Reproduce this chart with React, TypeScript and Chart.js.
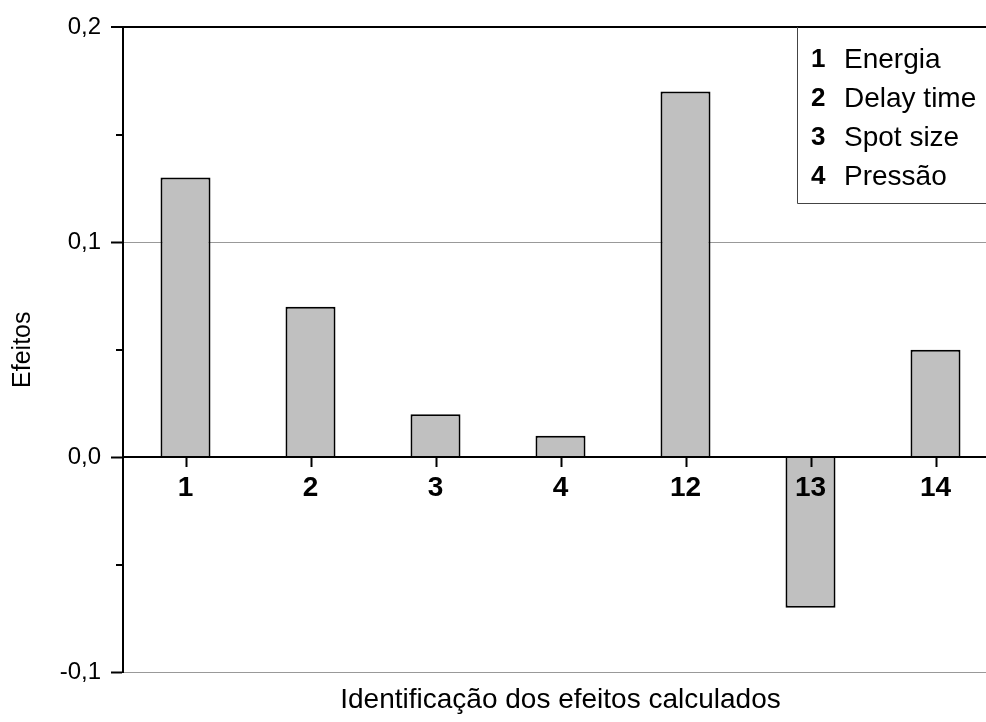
import React, { useEffect, useRef } from "react";
import { Chart, registerables } from "chart.js";

Chart.register(...registerables);

const categories = ["1", "2", "3", "4", "12", "13", "14"];
const effects = [0.13, 0.07, 0.02, 0.01, 0.17, -0.07, 0.05];
const legendNumbers = ["1", "2", "3", "4"];
const legendNames = ["Energia", "Delay time", "Spot size", "Pressão"];
const yMin = -0.1;
const yMax = 0.2;
const yStep = 0.05;
const xTitle = "Identificação dos efeitos calculados";
const yTitle = "Efeitos";

const FONT = "'Liberation Sans', Arial, sans-serif";

const isMajor = (v: number) => Math.abs(Math.round(v * 10) - v * 10) < 1e-6;

const extrasPlugin = {
  id: "extras",
  afterDraw(chart: any) {
    const { ctx, chartArea, scales } = chart;
    const y = scales.y;
    const x = scales.x;
    ctx.save();
    ctx.strokeStyle = "#000000";
    ctx.lineWidth = 2;
    ctx.setLineDash([]);
    // minor ticks on y axis
    y.ticks.forEach((t: any) => {
      if (!isMajor(t.value)) {
        const py = Math.round(y.getPixelForValue(t.value));
        ctx.beginPath();
        ctx.moveTo(chartArea.left - 7, py);
        ctx.lineTo(chartArea.left, py);
        ctx.stroke();
      }
    });
    // x tick marks below the zero line at category centres
    const y0 = Math.round(y.getPixelForValue(0));
    for (let i = 0; i < categories.length; i++) {
      const px = Math.round(x.getPixelForValue(i)) + 0.5;
      ctx.beginPath();
      ctx.moveTo(px, y0);
      ctx.lineTo(px, y0 + 10);
      ctx.stroke();
    }
    // legend box
    const bx = chartArea.right - 201;
    const by = chartArea.top;
    const bw = 260;
    const bh = 176;
    ctx.fillStyle = "#fff";
    ctx.fillRect(bx, by + 1, bw, bh);
    ctx.strokeStyle = "#444";
    ctx.lineWidth = 1;
    ctx.beginPath();
    ctx.moveTo(bx + 0.5, by);
    ctx.lineTo(bx + 0.5, by + bh + 0.5);
    ctx.lineTo(bx + bw, by + bh + 0.5);
    ctx.stroke();
    ctx.fillStyle = "#000";
    ctx.textBaseline = "middle";
    ctx.textAlign = "left";
    legendNumbers.forEach((n, i) => {
      const ty = by + 33 + i * 39;
      ctx.font = `bold 26px ${FONT}`;
      ctx.fillText(n, bx + 14, ty);
      ctx.font = `28px ${FONT}`;
      ctx.fillText(legendNames[i], bx + 47, ty);
    });
    ctx.restore();
  },
};

export default function App() {
  const ref = useRef<HTMLCanvasElement | null>(null);

  useEffect(() => {
    if (!ref.current) return;
    const chart = new Chart(ref.current, {
      type: "bar",
      data: {
        labels: categories,
        datasets: [
          {
            data: effects,
            backgroundColor: "#c0c0c0",
            borderColor: "#000",
            borderWidth: 2,
            categoryPercentage: 1,
            barPercentage: 0.4,
          },
        ],
      },
      options: {
        animation: false,
        responsive: false,
        devicePixelRatio: 1,
        layout: { padding: { top: 27, right: 2, left: 0, bottom: 0 } },
        plugins: {
          legend: { display: false },
          tooltip: { enabled: false },
          title: {
            display: true,
            position: "bottom",
            fullSize: false,
            text: xTitle,
            color: "#000",
            font: { family: FONT, size: 28, weight: "normal" },
            padding: { top: 11, bottom: 5 },
          },
        },
        scales: {
          x: {
            type: "category",
            position: { y: 0 } as any,
            offset: true,
            grid: {
              offset: false,
              display: true,
              drawOnChartArea: false,
              drawTicks: false,
              tickLength: 9,
              z: 1,
            },
            border: { display: true, color: "#000", width: 2, z: 1 },
            ticks: {
              color: "#000",
              padding: 14,
              z: 1,
              font: { family: FONT, size: 28, weight: "bold" },
              maxRotation: 0,
              autoSkip: false,
            },
          },
          y: {
            min: yMin,
            max: yMax,
            afterFit: (s: any) => {
              s.width = 123;
            },
            title: {
              display: true,
              text: yTitle,
              color: "#000",
              font: { family: FONT, size: 25 },
              padding: { top: 8, bottom: 0 },
            },
            ticks: {
              stepSize: yStep,
              color: "#000",
              padding: 10,
              font: { family: FONT, size: 24 },
              callback: (v: any) => {
                const n = Number(v);
                return isMajor(n) ? n.toFixed(1).replace(".", ",") : "";
              },
            },
            grid: {
              drawOnChartArea: true,
              drawTicks: true,
              tickLength: 12,
              tickWidth: 2,
              tickColor: (c: any) =>
                c.tick && isMajor(c.tick.value) ? "#000" : "rgba(0,0,0,0)",
              color: (c: any) => {
                const v = c.tick ? c.tick.value : NaN;
                if (!isMajor(v)) return "rgba(0,0,0,0)";
                if (Math.abs(v - yMax) < 1e-6) return "#000";
                if (Math.abs(v) < 1e-6) return "rgba(0,0,0,0)";
                return "#999";
              },
              lineWidth: (c: any) =>
                c.tick && Math.abs(c.tick.value - yMax) < 1e-6 ? 2 : 1,
            },
            border: { display: true, color: "#000", width: 2 },
          },
        },
      },
      plugins: [extrasPlugin],
    });
    return () => chart.destroy();
  }, []);

  return (
    <div
      style={{
        position: "fixed",
        left: 0,
        top: 0,
        width: 986,
        height: 722,
        overflow: "hidden",
        background: "#fff",
      }}
    >
      <canvas
        ref={ref}
        width={1000}
        height={722}
        style={{ display: "block", width: 1000, height: 722 }}
      />
    </div>
  );
}
